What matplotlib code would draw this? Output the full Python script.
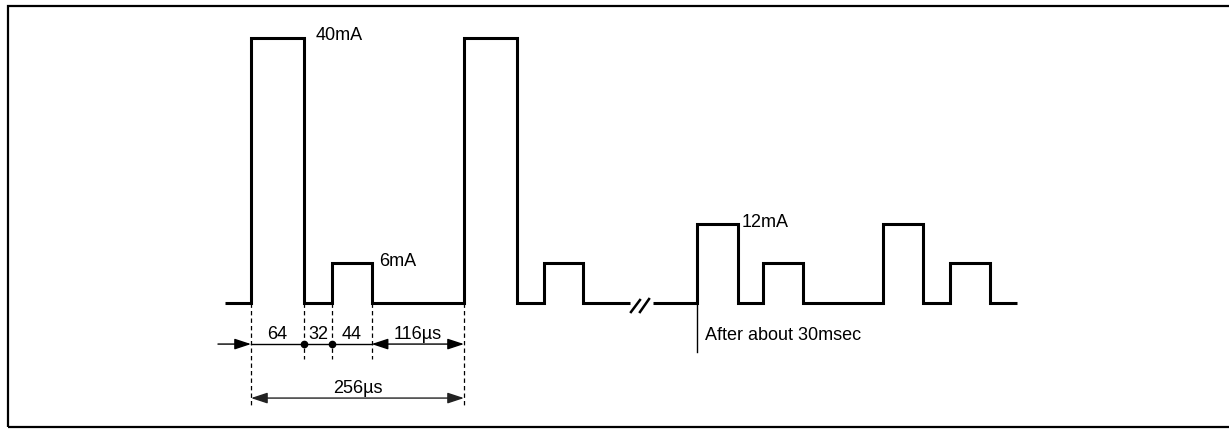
import numpy as np
import matplotlib
matplotlib.use("Agg")
import matplotlib.pyplot as plt
from matplotlib.patches import FancyArrowPatch, Rectangle

# ---------------- data (schematic) ----------------
# Current waveform before the break: edge times (µs) and level (mA) after each edge
edges_a = [-31, 0, 64, 97, 145, 256, 320, 352, 399, 455]
levels_a = [0, 40, 0, 6, 0, 40, 0, 6, 0]
# Waveform after the break (about 30 ms later), on the same schematic time axis
edges_b = [483, 536, 585, 615, 664, 760, 808, 840, 888, 921]
levels_b = [0, 12, 0, 6, 0, 12, 0, 6, 0]

# Timing dimension marks (µs on the drawing) and their labels
dim_marks = [0, 64, 97, 145, 256]
dim_labels = ["64", "32", "44", "116µs"]
total_label = "256µs"
level_labels = ["40mA", "6mA", "12mA"]
note_label = "After about 30msec"

# ---------------- figure ----------------
plt.rcParams['font.family'] = ['Liberation Sans', 'DejaVu Sans']
W, H = 1229, 429
fig = plt.figure(figsize=(W / 100, H / 100), dpi=100)
ax = fig.add_axes([0, 0, 1, 1])
ax.set_axis_off()

# scales: x in µs, y in mA
kx = 0.832    # px per µs
ky = 6.625    # px per mA
x0, y0 = 251, 303
ax.set_xlim(-x0 / kx, (W - x0) / kx)
ax.set_ylim((y0 - H) / ky, y0 / ky)

wave_kw = dict(color='black', lw=2.2, drawstyle='steps-post',
               solid_joinstyle='miter', solid_capstyle='butt')
ax.plot(edges_a, levels_a + [levels_a[-1]], **wave_kw)
ax.plot(edges_b, levels_b + [levels_b[-1]], **wave_kw)

# break marks "//"
ax.plot([456.7, 467.5], [-1.36, 0.45], color='black', lw=1.8)
ax.plot([467.5, 478.4], [-1.36, 0.6], color='black', lw=1.8)

# level labels
fs = 13
ax.text(edges_a[2] + 13.5, levels_a[1] - 0.3, level_labels[0], fontsize=fs, ha='left', va='baseline')
ax.text(edges_a[4] + 8.5, levels_a[3] - 0.4, level_labels[1], fontsize=fs, ha='left', va='baseline')
ax.text(edges_b[2] + 5, levels_b[1] - 0.5, level_labels[2], fontsize=fs, ha='left', va='baseline')

# dashed extension lines
y_dim = -6.2
y_tot = -14.35
thin = 1.0
for i, t in enumerate(dim_marks):
    ybot = -15.85 if t in (dim_marks[0], dim_marks[-1]) else -8.45
    ax.plot([t, t], [0, ybot], color='black', lw=0.9, ls=(0, (3.5, 2.5)))

arrow_style = '-|>,head_length=1.0,head_width=0.33'
arrow_style2 = '<|-|>,head_length=1.0,head_width=0.33'

# left incoming arrow to the first mark
ax.add_patch(FancyArrowPatch((-39.7, y_dim), (dim_marks[0], y_dim), arrowstyle=arrow_style,
                             mutation_scale=10, color='black', lw=thin, shrinkA=0, shrinkB=0))
# plain segment with dots
ax.plot([dim_marks[0], dim_marks[3]], [y_dim, y_dim], color='black', lw=thin)
ax.plot(dim_marks[1:3], [y_dim, y_dim], 'o', color='black', ms=4.5)
# 116 µs double arrow
ax.add_patch(FancyArrowPatch((dim_marks[3], y_dim), (dim_marks[4], y_dim), arrowstyle=arrow_style2,
                             mutation_scale=10, color='black', lw=thin, shrinkA=0, shrinkB=0))
# 256 µs double arrow
ax.add_patch(FancyArrowPatch((dim_marks[0], y_tot), (dim_marks[4], y_tot), arrowstyle=arrow_style2,
                             mutation_scale=10, color='#222222', lw=thin, shrinkA=0, shrinkB=0))

for a, b, lab in zip(dim_marks[:-1], dim_marks[1:], dim_labels):
    ax.text((a + b) / 2, y_dim + 0.7, lab, fontsize=fs, ha='center', va='baseline')
ax.text((dim_marks[0] + dim_marks[-1]) / 2, y_tot + 0.76, total_label, fontsize=fs,
        ha='center', va='baseline')

# note after the break
ax.plot([edges_b[1], edges_b[1]], [0, -7.4], color='black', lw=1.0)
ax.text(edges_b[1] + 9.7, -5.58, note_label, fontsize=fs, ha='left', va='baseline')

# outer frame (right side runs off the picture)
ax.add_patch(Rectangle((7.8 / W, 2.5 / H), 1.0, (423.3 - 2.5) / H, transform=ax.transAxes,
                       fill=False, lw=1.6, edgecolor='black', clip_on=False))

fig.savefig('out.png', dpi=100)
